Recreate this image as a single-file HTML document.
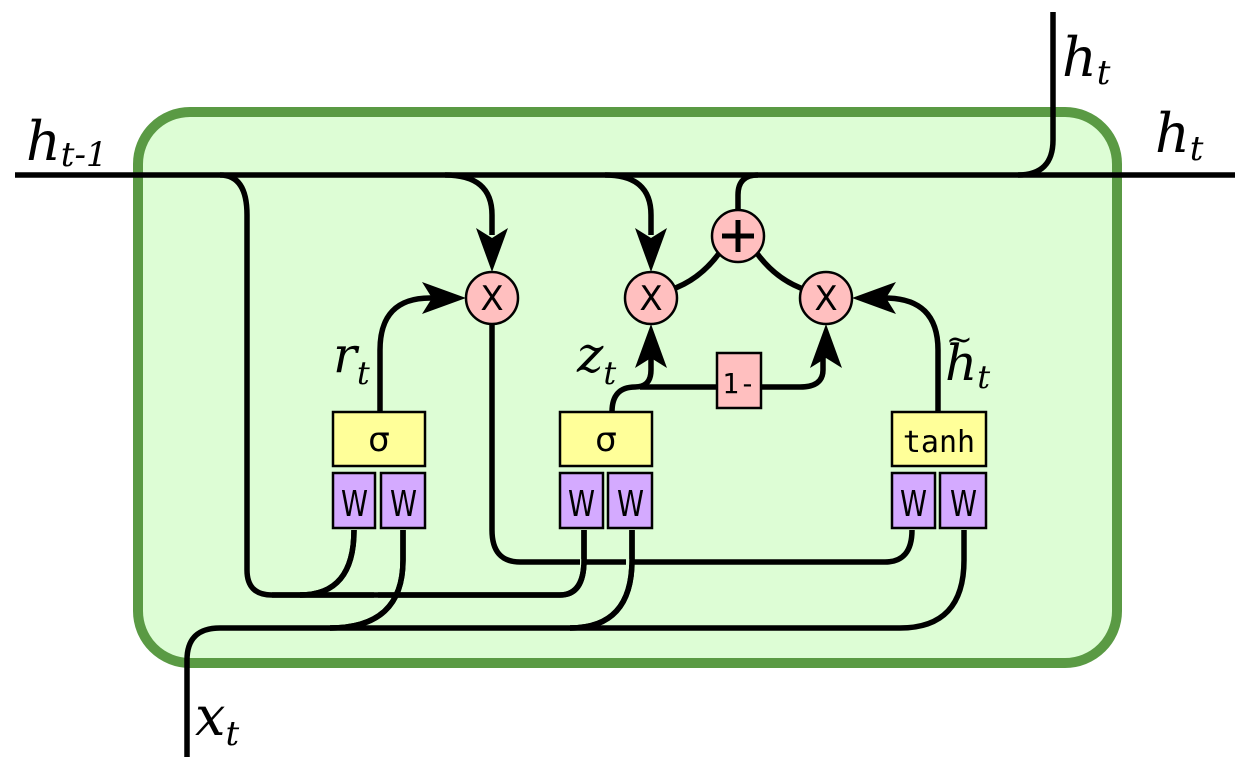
<!DOCTYPE html>
<html><head><meta charset="utf-8"><style>
html,body{margin:0;padding:0;background:#fff;}
svg{display:block;}
.lbl{font-family:"DejaVu Serif","Liberation Serif",serif;font-style:italic;fill:#000;}
.mono{font-family:"DejaVu Sans Mono","Liberation Mono",monospace;fill:#000;}
.sans{font-family:"DejaVu Sans","Liberation Sans",sans-serif;fill:#000;}
</style></head><body>
<svg width="1250" height="770" viewBox="0 0 1250 770" xmlns="http://www.w3.org/2000/svg">
<rect x="138" y="112" width="979" height="551" rx="52" fill="#ddfdd5" stroke="#5a9a44" stroke-width="10"/>
<g fill="none" stroke="#000" stroke-width="5.5" stroke-linecap="butt">
<path d="M15 175 H1235"/>
<path d="M1053 12 V140 Q1053 175 1018 175"/>
<path d="M738 212 V195 Q738 175 758 175"/>
<path d="M445 175 Q492 175 492 215 V235"/>
<path d="M605 175 Q651 175 651 215 V235"/>
<path d="M220 175 Q247 175 247 215 V570 Q247 595 272 595 H560 Q584 595 584 560 V530"/>
<path d="M300 595 Q354 595 354 530"/>
<path d="M492 324 V530 Q492 562 520 562 H885 Q912 562 912 530"/>
<path d="M187 757 V660 Q187 628 220 628 H900 Q964 628 964 560 V530"/>
<path d="M330 628 Q403 628 403 560 V530"/>
<path d="M570 628 Q632 628 632 560 V530"/>
<path d="M380 412 V350 Q380 298 430 298 H445"/>
<path d="M612 412 Q612 387 635 387 Q651 387 651 370 V355"/>
<path d="M640 387 H800 Q823 387 823 370 V355"/>
<path d="M938 412 V350 Q938 298 885 298 H872"/>
<path d="M670 290 Q700 280 720 252"/>
<path d="M806 290 Q776 280 756 252"/>
</g>
<g stroke="#ddfdd5" stroke-width="6" fill="none">
<path d="M374 595 h4"/><path d="M580 562 h4"/><path d="M626 562 h4"/>
</g>
<g fill="none" stroke="#000" stroke-width="5.5">
<path d="M330 628 Q403 628 403 560 V530"/>
<path d="M570 628 Q632 628 632 560 V530"/>
<path d="M300 595 Q354 595 354 530"/>
<path d="M272 595 H560 Q584 595 584 560 V530"/>
</g>
<g fill="#000">
<path d="M492 272 L476 228 L492 238 L508 228 Z"/>
<path d="M651 272 L635 228 L651 238 L667 228 Z"/>
<path d="M466 298 L422 282 L432 298 L422 314 Z"/>
<path d="M651 324 L635 368 L651 358 L667 368 Z"/>
<path d="M826 324 L810 368 L826 358 L842 368 Z"/>
<path d="M852 298 L896 282 L886 298 L896 314 Z"/>
</g>
<g fill="#ffbfbf" stroke="#000" stroke-width="2.5">
<circle cx="492" cy="298" r="26"/>
<circle cx="651" cy="298" r="26"/>
<circle cx="826" cy="298" r="26"/>
<circle cx="738" cy="236" r="26"/>
</g>
<g class="sans" font-size="34" text-anchor="middle">
<text x="492" y="310">X</text>
<text x="651" y="310">X</text>
<text x="826" y="310">X</text>
</g>
<path d="M738 220 V252 M722 236 H754" stroke="#000" stroke-width="5"/>
<rect x="717" y="353" width="44" height="55" fill="#ffbfbf" stroke="#000" stroke-width="2.5"/>
<text x="739" y="393" class="mono" font-size="28" text-anchor="middle">1-</text>
<g stroke="#000" stroke-width="2.5">
<rect x="333" y="412" width="92" height="54" fill="#ffff99"/>
<rect x="560" y="412" width="92" height="54" fill="#ffff99"/>
<rect x="892" y="412" width="94" height="54" fill="#ffff99"/>
<rect x="333" y="473" width="42" height="55" fill="#d4aaff"/>
<rect x="381" y="473" width="44" height="55" fill="#d4aaff"/>
<rect x="560" y="473" width="43" height="55" fill="#d4aaff"/>
<rect x="608" y="473" width="44" height="55" fill="#d4aaff"/>
<rect x="892" y="473" width="43" height="55" fill="#d4aaff"/>
<rect x="940" y="473" width="46" height="55" fill="#d4aaff"/>
</g>
<g class="sans" font-size="34" text-anchor="middle">
<text x="379" y="451">σ</text>
<text x="606" y="451">σ</text>
</g>
<g class="sans" font-size="36">
<text x="341" y="516" textLength="27" lengthAdjust="spacingAndGlyphs">W</text>
<text x="390" y="516" textLength="27" lengthAdjust="spacingAndGlyphs">W</text>
<text x="568" y="516" textLength="27" lengthAdjust="spacingAndGlyphs">W</text>
<text x="617" y="516" textLength="27" lengthAdjust="spacingAndGlyphs">W</text>
<text x="900" y="516" textLength="27" lengthAdjust="spacingAndGlyphs">W</text>
<text x="950" y="516" textLength="27" lengthAdjust="spacingAndGlyphs">W</text>
</g>
<text x="939" y="452" class="mono" font-size="30" text-anchor="middle">tanh</text>
<g class="lbl">
<text x="26" y="160" font-size="54">h<tspan font-size="34" dy="6">t-1</tspan></text>
<text x="1062" y="76" font-size="54">h<tspan font-size="34" dy="8">t</tspan></text>
<text x="1155" y="152" font-size="54">h<tspan font-size="34" dy="8">t</tspan></text>
<text x="195" y="735" font-size="54">x<tspan font-size="34" dy="10">t</tspan></text>
<text x="333" y="372" font-size="50">r<tspan font-size="32" dy="12">t</tspan></text>
<text x="577" y="372" font-size="50">z<tspan font-size="32" dy="12">t</tspan></text>
<text x="945" y="380" font-size="50">h<tspan font-size="32" dy="8">t</tspan></text>
<text x="946" y="350" font-size="32">~</text>
</g>
</svg>
</body></html>
